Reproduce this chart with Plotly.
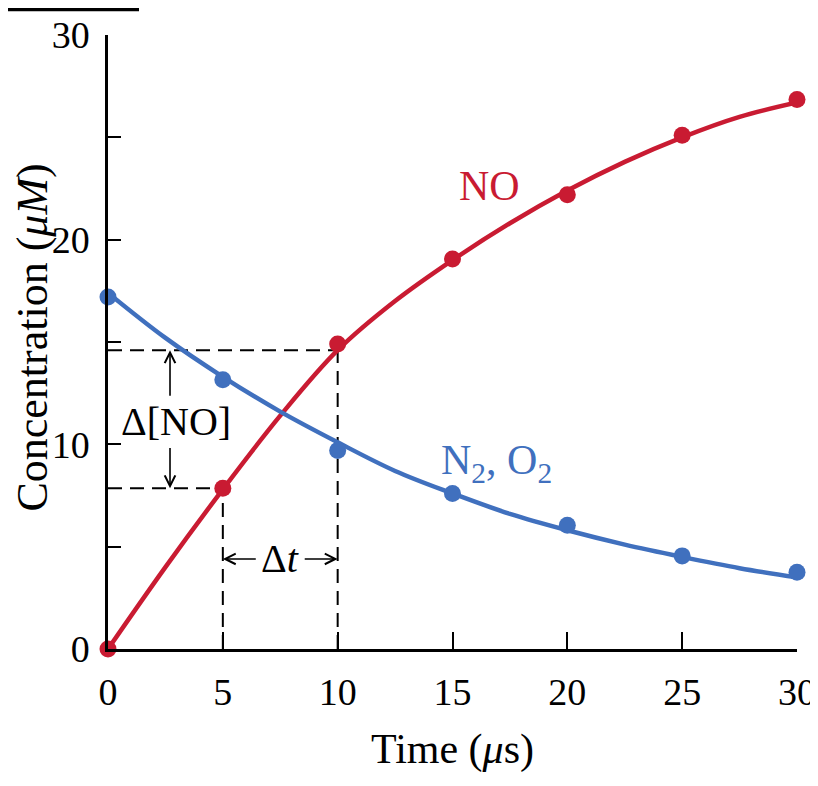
import plotly.graph_objects as go

# ---- data ----
time_pts = [0, 5, 10, 15, 20, 25, 30]
no_pts = [0.0, 7.85, 14.9, 19.05, 22.2, 25.1, 26.85]
n2o2_pts = [17.2, 13.15, 9.7, 7.6, 6.05, 4.55, 3.75]

curve_t = [0, 2.5, 5, 7.5, 10, 12.5, 15, 17.5, 20, 22.5, 25, 27.5, 30]
no_curve = [0.0, 4.0, 7.8, 11.4, 14.6, 17.0, 19.0, 20.8, 22.4, 23.8, 25.0, 26.0, 26.7]
n2o2_curve = [17.4, 15.2, 13.3, 11.6, 10.1, 8.7, 7.6, 6.6, 5.8, 5.1, 4.5, 3.95, 3.5]

x_ticks = [0, 5, 10, 15, 20, 25, 30]
y_ticks = [0, 5, 10, 15, 20, 25, 30]
y_ticktext = ["0", "", "10", "", "20", "", "30"]

# guide levels for the delta construction
t_start, t_end = 5, 10
no_start, no_end = 7.85, 14.6

RED = "#C91B32"
BLUE = "#4070BE"
FONT = "Liberation Serif"

fig = go.Figure()
fig.add_trace(go.Scatter(x=curve_t, y=no_curve, mode="lines", line=dict(color=RED, width=4.5, shape="spline"),
                         hoverinfo="skip", cliponaxis=False, showlegend=False))
fig.add_trace(go.Scatter(x=curve_t, y=n2o2_curve, mode="lines", line=dict(color=BLUE, width=4.5, shape="spline"),
                         hoverinfo="skip", cliponaxis=False, showlegend=False))
fig.add_trace(go.Scatter(x=time_pts, y=no_pts, mode="markers", marker=dict(color=RED, size=17),
                         cliponaxis=False, showlegend=False, name="NO"))
fig.add_trace(go.Scatter(x=time_pts, y=n2o2_pts, mode="markers", marker=dict(color=BLUE, size=17),
                         cliponaxis=False, showlegend=False, name="N2, O2"))

dash = dict(color="black", width=2, dash="14px,8px")
fig.add_shape(type="line", x0=0, x1=t_end, y0=no_end, y1=no_end, line=dash, layer="below")
fig.add_shape(type="line", x0=t_end, x1=t_end, y0=0, y1=no_end, line=dash, layer="below")
fig.add_shape(type="line", x0=0, x1=t_start, y0=no_start, y1=no_start, line=dash, layer="below")
fig.add_shape(type="line", x0=t_start, x1=t_start, y0=0, y1=no_start, line=dash, layer="below")

# cropped header rule at the very top-left
fig.add_shape(type="line", xref="paper", yref="paper", x0=-0.16, x1=0.045, y0=1.042, y1=1.042,
              line=dict(color="black", width=4))

def arrow(xh, yh, xt, yt):
    fig.add_annotation(x=xh, y=yh, ax=xt, ay=yt, xref="x", yref="y", axref="x", ayref="y",
                       text="", showarrow=True, arrowhead=5, arrowsize=1.3, arrowwidth=1.6,
                       arrowcolor="black", standoff=0, startstandoff=0)

arrow(2.7, no_end, 2.7, 12.3)
arrow(2.7, no_start, 2.7, 9.9)
arrow(t_start, 4.4, 6.5, 4.4)
arrow(t_end, 4.4, 8.5, 4.4)

fig.add_annotation(x=2.95, y=11.1, text="Δ[NO]", showarrow=False, font=dict(family=FONT, size=40, color="black"))
fig.add_annotation(x=7.5, y=4.4, text="Δ<i>t</i>", showarrow=False, font=dict(family=FONT, size=40, color="black"))
fig.add_annotation(x=16.6, y=22.6, text="NO", showarrow=False, font=dict(family=FONT, size=42, color=RED))
fig.add_annotation(x=16.9, y=9.1, text="N<sub>2</sub>, O<sub>2</sub>", showarrow=False,
                   font=dict(family=FONT, size=42, color=BLUE))

# y-axis title placed as a rotated annotation for exact control
fig.add_annotation(xref="paper", yref="paper", x=-0.109, y=0.507, xanchor="center", yanchor="middle",
                   text="Concentration (<i>μM</i>)", textangle=-90, showarrow=False,
                   font=dict(family=FONT, size=44, color="black"))

fig.update_layout(
    width=818, height=786,
    margin=dict(l=100, r=29, t=27, b=145),
    plot_bgcolor="white", paper_bgcolor="white",
    font=dict(family=FONT, color="black"),
    xaxis=dict(range=[0, 30], tickvals=x_ticks, ticks="inside", ticklen=17, tickwidth=2, tickcolor="black",
               showline=True, linecolor="black", linewidth=2.5, showgrid=False, zeroline=False,
               automargin=False,
               tickfont=dict(family=FONT, size=38), ticklabelstandoff=8,
               title=dict(text="Time (<i>μ</i>s)", font=dict(family=FONT, size=42), standoff=22)),
    yaxis=dict(range=[0, 30], tickvals=y_ticks, ticktext=y_ticktext, ticks="inside", ticklen=13, tickwidth=2,
               tickcolor="black", showline=True, linecolor="black", linewidth=2.5, showgrid=False, zeroline=False,
               automargin=False,
               tickfont=dict(family=FONT, size=38), ticklabelstandoff=8),
)

fig.write_html("out.html")
